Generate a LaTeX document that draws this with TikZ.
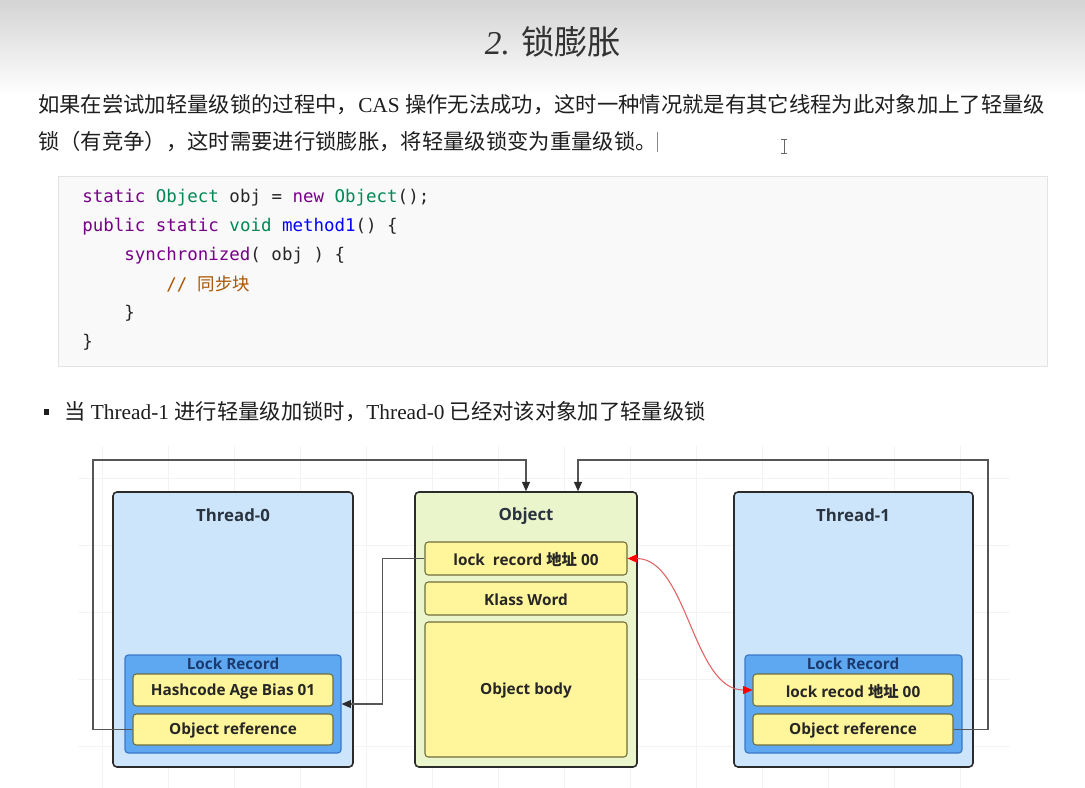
\documentclass[tikz,border=0pt]{standalone}
\usepackage{fontspec}
\setmainfont{Liberation Serif}
\setmonofont{DejaVu Sans Mono}
\newfontfamily\cjk{Noto Sans CJK SC}
\newfontfamily\diag{Open Sans}
\usetikzlibrary{arrows.meta,calc,fit,positioning}
\newcommand\zh[1]{{\cjk #1}}
\newcommand\diagfont{\diag\bfseries\fontsize{11.5}{14}\selectfont}
\definecolor{boxline}{HTML}{2B2B2B}
\definecolor{thrfill}{HTML}{CCE5FB}
\definecolor{objfill}{HTML}{EBF5CC}
\definecolor{lrfill}{HTML}{5EA8F2}
\definecolor{lrline}{HTML}{3C78C8}
\definecolor{lrtext}{HTML}{1B3A6E}
\definecolor{fieldfill}{HTML}{FFF59A}
\definecolor{fieldline}{HTML}{6E6E3C}
\definecolor{titletext}{HTML}{2A3440}
\definecolor{linkgray}{HTML}{555555}
\definecolor{redline}{HTML}{E06464}
\definecolor{kw}{HTML}{770088}
\definecolor{ty}{HTML}{008855}
\definecolor{fn}{HTML}{0000FF}
\definecolor{cm}{HTML}{AA5500}
\definecolor{codebg}{HTML}{F9F9F9}
\definecolor{codeline}{HTML}{E3E3E3}
\definecolor{gridc}{HTML}{F3F3F3}
\definecolor{bodytext}{HTML}{1E1E1E}
\begin{document}
\begin{tikzpicture}[x=0.75pt,y=-0.75pt,
  every node/.style={inner sep=0pt},
  para/.style={anchor=west, text=bodytext, font=\fontsize{16}{19}\selectfont},
  codetext/.style={anchor=west, text=black!85, font=\ttfamily\fontsize{13.1}{16}\selectfont},
  threadbox/.style={draw=boxline, line width=1.2pt, rounded corners=3pt, fill=thrfill},
  objbox/.style={draw=boxline, line width=1.2pt, rounded corners=3pt, fill=objfill},
  lockrec/.style={draw=lrline, line width=0.9pt, rounded corners=2.5pt, fill=lrfill},
  field/.style={draw=fieldline, line width=0.8pt, rounded corners=2.5pt, fill=fieldfill},
  fieldtext/.style={font=\diagfont, text=black!85, yshift=-1pt},
  boxtitle/.style={font=\diag\bfseries\fontsize{12.6}{15}\selectfont, text=titletext},
  lrtitle/.style={font=\diagfont, text=lrtext},
  link/.style={draw=linkgray, line width=0.8pt, -{Triangle[length=7pt,width=6pt,color=boxline]}},
  redlink/.style={draw=redline, line width=0.8pt,
    {Triangle[length=7pt,width=6pt,color=red]}-{Triangle[length=7pt,width=6pt,color=red]}}]
\useasboundingbox (0,0) rectangle (1085,788);
\fill[white] (0,0) rectangle (1085,788);
\shade[top color=black!17, bottom color=white] (0,0) rectangle (1085,96);

% heading and text
\node[text=black!80, font=\fontsize{25}{30}\selectfont] (title) at (553,42)
  {{\itshape 2.} \zh{锁膨胀}};
\node[para] (line1) at (38,105)
  {\zh{如果在尝试加轻量级锁的过程中，}CAS \zh{操作无法成功，这时一种情况就是有其它线程为此对象加上了轻量级}};
\node[para] (line2) at (38,142)
  {\zh{锁（有竞争），这时需要进行锁膨胀，将轻量级锁变为重量级锁。}};
\draw[black!45, line width=0.6pt] (657,132) -- (657,152);
\draw[black!60, line width=0.7pt] (781,139) -- (787,139) (784,139) -- (784,153) (781,153) -- (787,153);

% code block
\draw[codeline, fill=codebg] (58,176) rectangle (1047,366);
\node[codetext] (c1) at (82,198)
  {\textcolor{kw}{static} \textcolor{ty}{Object} obj = \textcolor{kw}{new} \textcolor{ty}{Object}();};
\node[codetext] (c2) at (82,227)
  {\textcolor{kw}{public} \textcolor{kw}{static} \textcolor{ty}{void} \textcolor{fn}{method1}() \{};
\node[codetext] (c3) at (124,256) {\textcolor{kw}{synchronized}( obj ) \{};
\node[codetext] (c4) at (166,284) {\textcolor{cm}{// \zh{同步块}}};
\node[codetext] (c5) at (124,313) {\}};
\node[codetext] (c6) at (82,342) {\}};

% bullet
\fill[bodytext] (44,409) rectangle (49,415);
\node[para] (bullet) at (64,412)
  {\zh{当} Thread-1 \zh{进行轻量级加锁时，}Thread-0 \zh{已经对该对象加了轻量级锁}};

% grid
\foreach \gx in {102,168,...,1000} \draw[gridc, line width=0.6pt] (\gx,446) -- (\gx,788);
\foreach \gy in {478,545,...,788} \draw[gridc, line width=0.6pt] (78,\gy) -- (1010,\gy);

% Thread-0
\node[threadbox, fit={(113,492) (353,767)}] (t0) {};
\node[boxtitle] (t0title) at (233,515) {Thread-0};
\node[lockrec, fit={(125,655) (341,753)}] (t0lr) {};
\node[lrtitle] (t0lrtitle) at (233,664) {Lock Record};
\node[field, fit={(133,674) (333,706)}, label={[fieldtext]center:Hashcode Age Bias 01}] (t0hash) {};
\node[field, fit={(133,714) (333,745)}, label={[fieldtext]center:Object reference}] (t0ref) {};

% Object
\node[objbox, fit={(415,492) (637,767)}] (obj) {};
\node[boxtitle] (objtitle) at (526,516) {Object};
\node[field, fit={(425,542) (627,575)}, label={[fieldtext]center:lock\ \ record \zh{地址} 00}] (objlock) {};
\node[field, fit={(425,582) (627,615)}, label={[fieldtext]center:Klass Word}] (objklass) {};
\node[field, fit={(425,622) (627,757)}, label={[fieldtext]center:Object body}] (objbody) {};

% Thread-1
\node[threadbox, fit={(734,492) (973,767)}] (t1) {};
\node[boxtitle] (t1title) at (853,515) {Thread-1};
\node[lockrec, fit={(745,655) (962,753)}] (t1lr) {};
\node[lrtitle] (t1lrtitle) at (853,664) {Lock Record};
\node[field, fit={(753,674) (953,706)}, label={[fieldtext]center:lock recod \zh{地址} 00}] (t1lock) {};
\node[field, fit={(753,714) (953,745)}, label={[fieldtext]center:Object reference}] (t1ref) {};

% connectors
\coordinate (leftup) at (93,460);
\coordinate (rightup) at (988,460);
\draw[link] (t0ref.west) -| (leftup) -| (obj.north);
\draw[link] (t1ref.east) -| (rightup) -| ($(obj.north)+(52,0)$);
\draw[link] (objlock.west) -- ++(-42,0) |- (t0lr.east);
\draw[redlink] (objlock.east) .. controls +(60,0) and +(-60,0) .. (t1lock.west);
\end{tikzpicture}
\end{document}
